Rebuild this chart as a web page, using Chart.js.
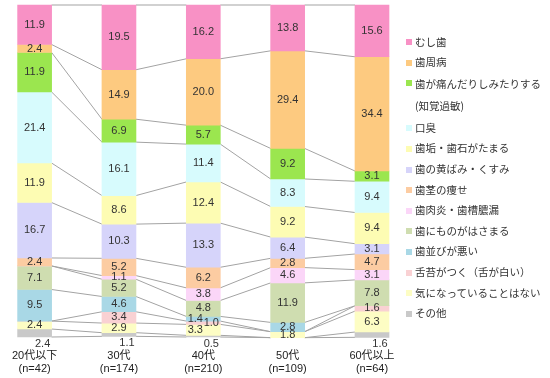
<!DOCTYPE html>
<html>
<head>
<meta charset="utf-8">
<script src="https://cdn.jsdelivr.net/npm/chart.js@4.4.0/dist/chart.umd.min.js"></script>
<style>
  html, body { margin: 0; padding: 0; background: #fff; }
  #wrap { position: relative; width: 550px; height: 378px; }
  #chart { position: absolute; left: 0; top: 0; }
  #legend {
    position: absolute; left: 406px; top: 31.7px; margin: 0; padding: 0; list-style: none;
    font: 10.5px "Noto Sans CJK JP", "Liberation Sans", sans-serif; color: #333;
  }
  #legend li { height: 20.6px; line-height: 20.6px; white-space: nowrap; position: relative; padding-left: 9px; }
  #legend li.two { height: 45px; line-height: 22px; }
  #legend li span { position: absolute; left: 0; top: 7.5px; width: 6px; height: 6px; }
</style>
</head>
<body>
<div id="wrap">
  <canvas id="chart" width="550" height="378"></canvas>
  <ul id="legend"></ul>
</div>
<script>
const categories = [['20代以下', '(n=42)'], ['30代', '(n=174)'], ['40代', '(n=210)'], ['50代', '(n=109)'], ['60代以上', '(n=64)']];

// top of the bar first
const seriesNames = ['むし歯', '歯周病', '歯が痛んだりしみたりする\n(知覚過敏)', '口臭', '歯垢・歯石がたまる', '歯の黄ばみ・くすみ',
  '歯茎の痩せ', '歯肉炎・歯槽膿漏', '歯にものがはさまる', '歯並びが悪い', '舌苔がつく（舌が白い）', '気になっていることはない', 'その他'];
const seriesColors = ['#f891c5', '#fdca80', '#9be64f', '#d7fbfd', '#fdfcb3', '#d6d4fa',
  '#fccca2', '#fbd6f8', '#cfddb0', '#a9d8e6', '#f9d1d3', '#fdfdc4', '#c9c9c9'];

const mushiba   = [11.9, 19.5, 16.2, 13.8, 15.6];
const shishubyo = [2.4, 14.9, 20.0, 29.4, 34.4];
const chikaku   = [11.9, 6.9, 5.7, 9.2, 3.1];
const koshu     = [21.4, 16.1, 11.4, 8.3, 9.4];
const shiko     = [11.9, 8.6, 12.4, 9.2, 9.4];
const kibami    = [16.7, 10.3, 13.3, 6.4, 3.1];
const yase      = [2.4, 5.2, 6.2, 2.8, 4.7];
const shiniku   = [0, 1.1, 3.8, 4.6, 3.1];
const hasamaru  = [7.1, 5.2, 4.8, 11.9, 7.8];
const narabi    = [9.5, 4.6, 1.4, 2.8, 0];
const zettai    = [0, 3.4, 1.0, 0, 1.6];
const nashi     = [2.4, 2.9, 3.3, 1.8, 6.3];
const sonota    = [2.4, 1.1, 0.5, 0, 1.6];

const seriesValues = [mushiba, shishubyo, chikaku, koshu, shiko, kibami, yase, shiniku, hasamaru, narabi, zettai, nashi, sonota];

// legend as html
const legend = document.getElementById('legend');
seriesNames.forEach((name, i) => {
  const li = document.createElement('li');
  const parts = name.split('\n');
  if (parts.length > 1) li.className = 'two';
  const sw = document.createElement('span');
  sw.style.background = seriesColors[i];
  li.appendChild(sw);
  parts.forEach((p, k) => {
    if (k > 0) li.appendChild(document.createElement('br'));
    li.appendChild(document.createTextNode(p));
  });
  legend.appendChild(li);
});

const connectors = {
  id: 'connectors',
  beforeDatasetsDraw(chart) {
    const ctx = chart.ctx;
    const metas = chart.data.datasets.map((d, i) => chart.getDatasetMeta(i));
    ctx.save();
    ctx.strokeStyle = '#a3a3a3';
    ctx.lineWidth = 1;
    const edges = [];
    metas.forEach((m, i) => {
      if (i === 0) edges.push(m.data.map(b => b.base));
      edges.push(m.data.map(b => b.y));
    });
    const bars = metas[0].data;
    edges.forEach(ys => {
      for (let j = 0; j < bars.length - 1; j++) {
        ctx.beginPath();
        ctx.moveTo(bars[j].x + bars[j].width / 2, ys[j]);
        ctx.lineTo(bars[j + 1].x - bars[j + 1].width / 2, ys[j + 1]);
        ctx.stroke();
      }
    });
    ctx.restore();
  }
};

const valueLabels = {
  id: 'valueLabels',
  afterDatasetsDraw(chart) {
    const ctx = chart.ctx;
    ctx.save();
    ctx.font = '11px "Liberation Sans", Arial, sans-serif';
    ctx.fillStyle = '#333';
    ctx.textAlign = 'center';
    ctx.textBaseline = 'middle';
    const last = chart.data.datasets.length - 1;
    for (let j = 0; j < categories.length; j++) {
      const items = [];
      chart.data.datasets.forEach((ds, i) => {
        const v = ds.data[j];
        if (!v) return;
        const bar = chart.getDatasetMeta(i).data[j];
        if (i === last) {
          items.push({ v, x: bar.x + 8, y: Math.max(bar.y, bar.base) + 7, fixed: true });
        } else {
          items.push({ v, x: bar.x, y: (bar.y + bar.base) / 2 });
        }
      });
      // crowded labels get pushed sideways, alternating
      let side = -1;
      items.forEach((it, k) => {
        if (it.fixed) return;
        const prev = items[k - 1], next = items[k + 1];
        const close = (prev && !prev.fixed && it.y - prev.y < 7.3) || (next && !next.fixed && next.y - it.y < 7.3);
        if (close) { it.x += side * 8; side = -side; }
      });
      items.forEach(it => ctx.fillText(it.v.toFixed(1), it.x, it.y));
    }
    ctx.restore();
  }
};

new Chart(document.getElementById('chart'), {
  type: 'bar',
  data: {
    labels: categories,
    datasets: seriesValues.map((vals, i) => ({
      label: seriesNames[i],
      data: vals,
      backgroundColor: seriesColors[i],
      borderWidth: 0,
      barThickness: 34,
      clip: false
    }))
  },
  options: {
    responsive: false,
    animation: false,
    layout: { padding: { left: 33, right: 178, top: 5, bottom: 0 } },
    plugins: { legend: { display: false }, tooltip: { enabled: false } },
    scales: {
      x: {
        stacked: true,
        offset: false,
        grid: { display: false, drawTicks: false },
        border: { display: false },
        ticks: {
          padding: 12,
          color: '#222',
          font: { family: '"Liberation Sans", "Noto Sans CJK JP", sans-serif', size: 11, lineHeight: 1.2 },
          maxRotation: 0,
          autoSkip: false
        },
        afterFit(scale) { scale.height = 41; }
      },
      y: {
        stacked: true,
        display: false,
        reverse: true,
        min: 0,
        max: 100
      }
    }
  },
  plugins: [connectors, valueLabels]
});
</script>
</body>
</html>
